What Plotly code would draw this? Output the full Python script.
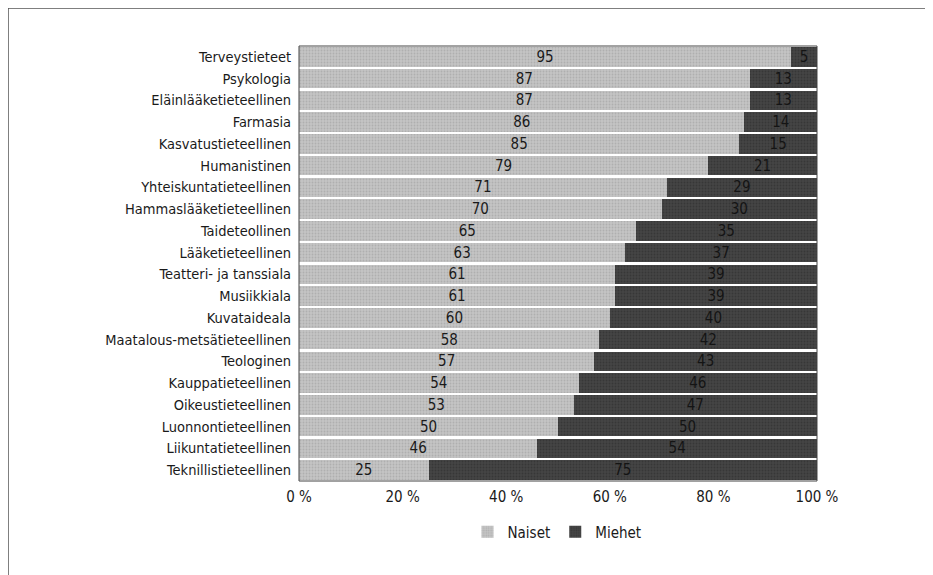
import plotly.graph_objects as go

categories = ["Terveystieteet", "Psykologia", "Eläinlääketieteellinen", "Farmasia",
              "Kasvatustieteellinen", "Humanistinen", "Yhteiskuntatieteellinen",
              "Hammaslääketieteellinen", "Taideteollinen", "Lääketieteellinen",
              "Teatteri- ja tanssiala", "Musiikkiala", "Kuvataideala",
              "Maatalous-metsätieteellinen", "Teologinen", "Kauppatieteellinen",
              "Oikeustieteellinen", "Luonnontieteellinen", "Liikuntatieteellinen",
              "Teknillistieteellinen"]
naiset = [95, 87, 87, 86, 85, 79, 71, 70, 65, 63, 61, 61, 60, 58, 57, 54, 53, 50, 46, 25]
miehet = [5, 13, 13, 14, 15, 21, 29, 30, 35, 37, 39, 39, 40, 42, 43, 46, 47, 50, 54, 75]
tick_vals = [0, 20, 40, 60, 80, 100]
tick_text = ["0 %", "20 %", "40 %", "60 %", "80 %", "100 %"]

FONT = "DejaVu Sans Condensed, Liberation Sans Narrow, Roboto, sans-serif"
FS = 14.5

fig = go.Figure()
fig.add_trace(go.Bar(
    y=categories, x=naiset, name="Naiset", orientation="h",
    marker=dict(color="#b8b8b8", line=dict(width=0),
                pattern=dict(shape=".", fgcolor="#9a9a9a", bgcolor="#c4c4c4", size=3, solidity=0.3)),
    text=[str(v) for v in naiset], textposition="inside", insidetextanchor="middle",
    textfont=dict(color="#1a1a1a", size=15, family=FONT), textangle=0,
))
fig.add_trace(go.Bar(
    y=categories, x=miehet, name="Miehet", orientation="h",
    marker=dict(color="#3a3a3a", line=dict(width=0),
                pattern=dict(shape=".", fgcolor="#2a2a2a", bgcolor="#444444", size=3, solidity=0.3)),
    text=[str(v) for v in miehet], textposition="inside", insidetextanchor="middle",
    textfont=dict(color="#141414", size=15, family=FONT), textangle=0,
))

# page body has an 8px margin; compensate so the picture lands where the reference is
OFF = 8
W, H = 933 - OFF, 575 - OFF
L, R, T, B = 299 - OFF, 817 - OFF, 46 - OFF, 481 - OFF
pw, ph = R - L, B - T

def px_x(p):
    return (p - OFF - L) / pw

def px_y(p):
    return (B - (p - OFF)) / ph

fig.update_layout(
    width=W, height=H,
    barmode="stack", bargap=0.1,
    margin=dict(l=L, r=W - R, t=T, b=H - B, pad=0),
    paper_bgcolor="white", plot_bgcolor="white",
    font=dict(family=FONT, size=FS, color="#1a1a1a"),
    uniformtext=dict(minsize=15, mode="show"),
    xaxis=dict(range=[0, 100], tickvals=tick_vals, ticktext=tick_text,
               showgrid=False, zeroline=False, showline=False, ticks="outside",
               ticklen=2, tickcolor="rgba(0,0,0,0)",
               tickfont=dict(size=15, family=FONT), fixedrange=True),
    yaxis=dict(categoryorder="array", categoryarray=categories[::-1],
               showgrid=False, zeroline=False, showline=False, ticks="outside",
               ticklen=4, tickcolor="rgba(0,0,0,0)",
               tickfont=dict(size=FS, family=FONT)),
    legend=dict(orientation="h", x=px_x(557), y=px_y(532), xanchor="center", yanchor="middle",
                font=dict(size=15, family=FONT), traceorder="normal",
                itemwidth=30, tracegroupgap=0),
    showlegend=True,
    shapes=[
        dict(type="line", xref="paper", yref="paper", x0=px_x(8), x1=px_x(933),
             y0=px_y(8), y1=px_y(8), line=dict(color="#555555", width=1.5)),
        dict(type="line", xref="paper", yref="paper", x0=px_x(8), x1=px_x(8),
             y0=px_y(8), y1=px_y(575), line=dict(color="#555555", width=1.5)),
        dict(type="rect", xref="paper", yref="paper", x0=0, x1=1, y0=0, y1=1,
             line=dict(color="#444444", width=1), layer="above"),
    ],
)

fig.write_html("out.html")
